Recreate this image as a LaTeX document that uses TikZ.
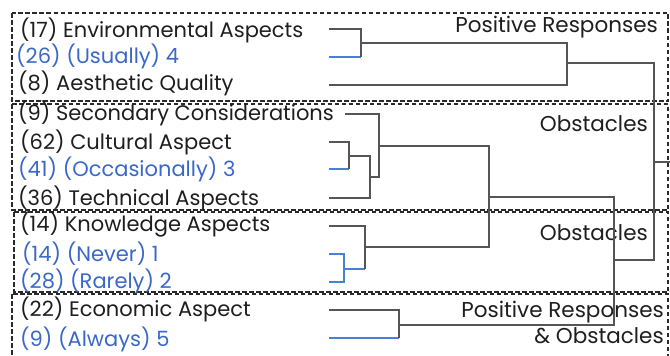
\documentclass[tikz,border=0pt]{standalone}
\usepackage{fontspec}
\setmainfont{Poppins}
\definecolor{txtblack}{HTML}{1E1E1E}
\definecolor{txtblue}{HTML}{3A68C8}
\definecolor{lngray}{HTML}{555555}
\definecolor{lnblue}{HTML}{4A7FD6}
\definecolor{dashgray}{HTML}{2A2A2A}
\tikzset{
  lbl/.style={anchor=west,inner sep=0pt,font=\fontsize{21}{24}\selectfont,text=txtblack},
  lblblue/.style={lbl,text=txtblue},
  grp/.style={anchor=east,inner sep=0pt,font=\fontsize{21.5}{26}\selectfont,text=txtblack,align=right},
  ln/.style={draw=lngray,line width=1.4pt},
  lnb/.style={draw=lnblue,line width=1.4pt},
  dbox/.style={draw=dashgray,line width=1.1pt,dash pattern=on 4.5pt off 2.5pt}
}
\begin{document}
\begin{tikzpicture}[x=1pt,y=-1pt]
\useasboundingbox (0,0) rectangle (670,356);
% dashed group boxes
\draw[dbox] (12,13) rectangle (668,101);
\draw[dbox] (12,104) rectangle (668,210);
\draw[dbox] (14,212) rectangle (668,292);
\draw[dbox] (12,294) rectangle (668,362);
% labels
\node[lbl] (r1) at (20,30) {(17) Environmental Aspects};
\node[lblblue] (r2) at (16,56) {(26) (Usually) 4};
\node[lbl] (r3) at (18,83) {(8) Aesthetic Quality};
\node[lbl] (r4) at (18,113) {(9) Secondary Considerations};
\node[lbl] (r5) at (20,142) {(62) Cultural Aspect};
\node[lblblue] (r6) at (18,169) {(41) (Occasionally) 3};
\node[lbl] (r7) at (18,198) {(36) Technical Aspects};
\node[lbl] (r8) at (20,225) {(14) Knowledge Aspects};
\node[lblblue] (r9) at (22,254) {(14) (Never) 1};
\node[lblblue] (r10) at (20,281) {(28) (Rarely) 2};
\node[lbl] (r11) at (20,309) {(22) Economic Aspect};
\node[lblblue] (r12) at (20,339) {(9) (Always) 5};
% group labels
\node[grp] (g1) at (658,27) {Positive Responses};
\node[grp] (g2) at (648,124) {Obstacles};
\node[grp] (g3) at (648,233) {Obstacles};
\node[grp] (g4) at (664,322) {Positive Responses\\\& Obstacles};
% leaf ends
\coordinate (e1) at (329,29);
\coordinate (e2) at (329,57);
\coordinate (e3) at (329,85);
\coordinate (e4) at (345,114);
\coordinate (e5) at (329,142);
\coordinate (e6) at (329,169);
\coordinate (e7) at (329,198);
\coordinate (e8) at (329,226);
\coordinate (e9) at (329,254);
\coordinate (e10) at (329,282);
\coordinate (e11) at (329,310);
\coordinate (e12) at (329,338);
% junctions
\coordinate (j12) at (361,43);
\coordinate (j123) at (567,63);
\coordinate (j56) at (349,156);
\coordinate (j567) at (370,177);
\coordinate (j4567) at (379,146);
\coordinate (j910) at (344,269);
\coordinate (j8910) at (365,247);
\coordinate (jB) at (489,197);
\coordinate (j1112) at (399,325);
\coordinate (jC) at (614,260);
\coordinate (jroot) at (654,162);
\coordinate (rootend) at (670,162);
% cluster 1
\draw[ln] (e1) -| (j12);
\draw[lnb] (e2) -- (e2 -| j12);
\draw[ln] (e2 -| j12) -- (j12);
\draw[ln] (j12) -| (j123);
\draw[ln] (e3) -| (j123);
% cluster 2
\draw[ln] (e5) -| (j56);
\draw[lnb] (e6) -- (e6 -| j56);
\draw[ln] (e6 -| j56) -- (j56);
\draw[ln] (j56) -| (j567);
\draw[ln] (e7) -| (j567);
\draw[ln] (j567) -| (j4567);
\draw[ln] (e4) -| (j4567);
\draw[ln] (j4567) -| (jB);
% cluster 3
\draw[lnb] (e9) -| (j910);
\draw[lnb] (e10) -| (j910);
\draw[lnb] (j910) -- (j910 -| j8910);
\draw[ln] (j910 -| j8910) -- (j8910);
\draw[ln] (e8) -| (j8910);
\draw[ln] (j8910) -| (jB);
% cluster 4
\draw[ln] (e11) -| (j1112);
\draw[lnb] (e12) -- (e12 -| j1112);
\draw[ln] (e12 -| j1112) -- (j1112);
% upper merges
\draw[ln] (jB) -| (jC);
\draw[ln] (j1112) -| (jC);
\draw[ln] (jC) -| (jroot);
\draw[ln] (j123) -| (jroot);
\draw[ln] (jroot) -- (rootend);
\end{tikzpicture}
\end{document}
